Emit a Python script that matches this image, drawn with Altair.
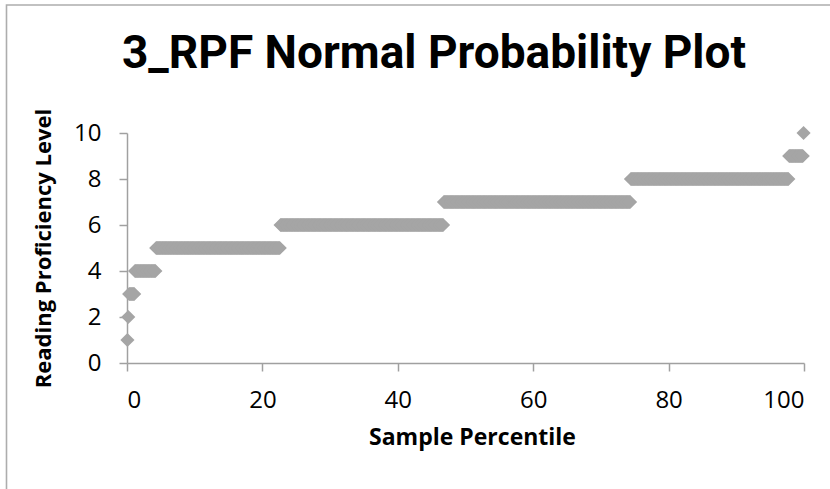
import altair as alt
import numpy as np
import pandas as pd

# Reading proficiency levels and how many students scored each one
levels = [1, 2, 3, 4, 5, 6, 7, 8, 9, 10]
counts = [1, 1, 7, 25, 147, 193, 221, 187, 17, 1]

x_ticks = [0, 20, 40, 60, 80, 100]
y_ticks = [0, 2, 4, 6, 8, 10]

TITLE = "3_RPF Normal Probability Plot"
MARKER = "#A5A5A5"
AXIS = "#A0A0A0"
FONT = "Open Sans"

# one row per student, sorted by level
scores = pd.DataFrame({"RPF": np.repeat(levels, counts)})

PLOT_W, PLOT_H = 677, 230
PAD = {"left": 127, "top": 133, "right": 830 - 127 - PLOT_W, "bottom": 489 - 133 - PLOT_H}

points = (
    alt.Chart(scores)
    .transform_window(rank="row_number()", sort=[alt.SortField("RPF")])
    .transform_joinaggregate(n="count()")
    .transform_calculate(pct="(datum.rank - 0.5) / datum.n * 100")
    .mark_point(shape="diamond", filled=True, size=200, color=MARKER, opacity=1, strokeWidth=0)
    .encode(
        x=alt.X(
            "pct:Q",
            title="Sample Percentile",
            scale=alt.Scale(domain=[0, 100], nice=False, zero=False),
            axis=alt.Axis(
                values=x_ticks, labelPadding=17, titlePadding=14,
                titleFontSize=23, titleX=345,
            ),
        ),
        y=alt.Y(
            "RPF:Q",
            title="Reading Proficiency Level",
            scale=alt.Scale(domain=[0, 10], nice=False),
            axis=alt.Axis(values=y_ticks, labelPadding=18, titlePadding=18, titleFontSize=22),
        ),
    )
)

single = pd.DataFrame({"label": [TITLE]})

# outer chart frame
frame = (
    alt.Chart(single)
    .mark_rect(fill=None, stroke="#ADADAD", strokeWidth=1.6)
    .encode(
        x=alt.value(-120.5),
        x2=alt.value(PLOT_W + 60),
        y=alt.value(-128),
        y2=alt.value(PLOT_H + 200),
    )
)

# chart heading
heading = (
    alt.Chart(single)
    .mark_text(
        font="Roboto",
        fontSize=46,
        fontWeight="bold",
        color="#000000",
        align="center",
        baseline="alphabetic",
    )
    .encode(text="label:N", x=alt.value(307), y=alt.value(-65))
)

chart = (
    alt.layer(frame, heading, points)
    .properties(
        width=PLOT_W,
        height=PLOT_H,
        padding=PAD,
        background="#FFFFFF",
        autosize=alt.AutoSizeParams(type="none"),
    )
    .configure_view(stroke=None)
    .configure_axis(
        grid=False,
        domainColor=AXIS,
        domainWidth=1.5,
        tickColor=AXIS,
        tickWidth=1.5,
        tickSize=8,
        labelFont=FONT,
        labelFontSize=24,
        labelColor="#000000",
        titleFont=FONT,
        titleFontWeight="bold",
        titleColor="#000000",
    )
)

chart.save("out.html", embed_options={"renderer": "svg", "actions": False})
